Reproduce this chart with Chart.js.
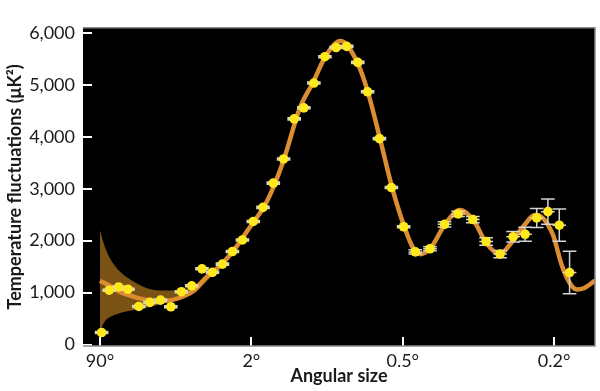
<!DOCTYPE html>
<html lang="en">
<head>
<meta charset="UTF-8">
<title>CMB power spectrum</title>
<script src="https://cdn.jsdelivr.net/npm/chart.js"></script>
<style>
    body { margin: 0; background: #fff; }
    .wrap { width: 600px; height: 391px; position: relative; }
</style>
</head>
<body>
<div class="wrap"><canvas id="cmb"></canvas></div>
<script>
// x positions are in axis units: 0 = 90°, 1 = 2°, 2 = 0.5°, 3 = 0.2°
const tickPos = [0, 1, 2, 3];
const tickLabels = ['90°', '2°', '0.5°', '0.2°'];
const yTicks = [0, 1000, 2000, 3000, 4000, 5000, 6000];

// measured band powers (μK²)
const binX = [0.011, 0.061, 0.123, 0.185, 0.257, 0.330, 0.400, 0.468, 0.538, 0.606,
    0.674, 0.743, 0.809, 0.875, 0.941, 1.013, 1.077, 1.145, 1.213, 1.283,
    1.347, 1.413, 1.486, 1.560, 1.630, 1.703, 1.768, 1.846, 1.925, 2.006,
    2.083, 2.180, 2.276, 2.366, 2.463, 2.551, 2.643, 2.729, 2.808, 2.885,
    2.959, 3.034, 3.102];
const binPower = [232, 1047, 1109, 1065, 734, 812, 855, 728, 1018, 1132,
    1458, 1391, 1549, 1790, 2014, 2370, 2641, 3107, 3572, 4344,
    4556, 5033, 5540, 5716, 5739, 5431, 4864, 3964, 3022, 2268,
    1784, 1844, 2315, 2514, 2406, 1984, 1743, 2074, 2123, 2437,
    2558, 2297, 1386];
const binErr = [20, 20, 20, 20, 20, 20, 20, 20, 20, 20,
    20, 20, 20, 20, 20, 20, 20, 20, 20, 20,
    20, 20, 20, 20, 20, 20, 20, 20, 20, 20,
    40, 40, 50, 50, 60, 70, 70, 100, 136, 184,
    242, 310, 408];
const binHalfWidth = 0.045;

// best-fit model curve
const modelX = [0.00, 0.06, 0.12, 0.18, 0.26, 0.34, 0.40, 0.48, 0.56, 0.62,
    0.70, 0.78, 0.88, 0.99, 1.10, 1.21, 1.32, 1.41, 1.49, 1.59,
    1.70, 1.77, 1.85, 1.93, 2.01, 2.07, 2.12, 2.19, 2.28, 2.38,
    2.47, 2.55, 2.64, 2.72, 2.79, 2.88, 2.99, 3.05, 3.10, 3.15,
    3.20, 3.27];
const modelPower = [1230, 1140, 1030, 960, 890, 850, 840, 860, 940, 1040,
    1290, 1480, 1800, 2260, 2740, 3520, 4550, 5060, 5550, 5840,
    5430, 4860, 3960, 3020, 2270, 1850, 1740, 1880, 2320, 2590,
    2380, 1960, 1740, 1970, 2250, 2500, 2130, 1530, 1200, 1060,
    1090, 1230];

// cosmic variance band
const bandX = [0, 0.03, 0.07, 0.12, 0.18, 0.29, 0.40, 0.51, 0.62, 0.70, 0.76];
const bandHigh = [2200, 1900, 1640, 1440, 1290, 1110, 1040, 1040, 1140, 1320, 1450];
const bandLow = [260, 440, 535, 595, 640, 700, 775, 865, 985, 1200, 1390];

const pts = (xs, ys) => xs.map((x, i) => ({ x: x, y: ys[i] }));

const plotFrame = {
    id: 'plotFrame',
    beforeDraw(chart) {
        const { ctx, chartArea: a } = chart;
        ctx.save();
        ctx.fillStyle = '#000';
        ctx.fillRect(a.left, a.top, a.right - a.left, a.bottom - a.top);
        ctx.restore();
    },
    afterDraw(chart) {
        const { ctx, chartArea: a } = chart;
        ctx.save();
        ctx.strokeStyle = '#8a8a8a';
        ctx.lineWidth = 1.5;
        ctx.beginPath();
        ctx.moveTo(a.left, a.top);
        ctx.lineTo(a.right, a.top);
        ctx.lineTo(a.right, a.bottom);
        ctx.lineTo(a.left, a.bottom);
        ctx.stroke();
        ctx.restore();
    }
};

// error bars go under the yellow dots
const errorBars = {
    id: 'errorBars',
    beforeDatasetDraw(chart, args) {
        if (args.index !== 0) return;
        const { ctx, scales: { x, y } } = chart;
        ctx.save();
        ctx.strokeStyle = '#d4d4d4';
        ctx.lineWidth = 1.5;
        binX.forEach((bx, i) => {
            const xl = x.getPixelForValue(bx - binHalfWidth);
            const xr = x.getPixelForValue(bx + binHalfWidth);
            const xc = x.getPixelForValue(bx);
            const yc = y.getPixelForValue(binPower[i]);
            const yt = y.getPixelForValue(binPower[i] + binErr[i]);
            const yb = y.getPixelForValue(binPower[i] - binErr[i]);
            ctx.beginPath();
            ctx.moveTo(xl, yc); ctx.lineTo(xr, yc);
            ctx.moveTo(xc, yt); ctx.lineTo(xc, yb);
            ctx.moveTo(xl, yt); ctx.lineTo(xr, yt);
            ctx.moveTo(xl, yb); ctx.lineTo(xr, yb);
            ctx.stroke();
        });
        ctx.restore();
    }
};

new Chart(document.getElementById('cmb'), {
    type: 'line',
    data: {
        datasets: [
            {
                label: 'Data',
                data: pts(binX, binPower),
                showLine: false,
                pointRadius: 4.8,
                pointBackgroundColor: '#ffe81c',
                pointBorderWidth: 0
            },
            {
                label: 'Model',
                data: pts(modelX, modelPower),
                borderColor: '#dc8d31',
                borderWidth: 4.5,
                pointRadius: 0,
                cubicInterpolationMode: 'monotone'
            },
            {
                label: 'Band high',
                data: pts(bandX, bandHigh),
                borderWidth: 0,
                pointRadius: 0,
                cubicInterpolationMode: 'monotone',
                backgroundColor: '#7a5214',
                fill: 3
            },
            {
                label: 'Band low',
                data: pts(bandX, bandLow),
                borderWidth: 0,
                pointRadius: 0,
                cubicInterpolationMode: 'monotone',
                fill: false
            }
        ]
    },
    options: {
        responsive: true,
        maintainAspectRatio: false,
        animation: false,
        layout: { padding: { top: 8, right: 5, left: 0, bottom: 0 } },
        plugins: { legend: { display: false }, tooltip: { enabled: false } },
        scales: {
            x: {
                type: 'linear',
                min: -0.112,
                max: 3.27,
                afterBuildTicks: s => { s.ticks = tickPos.map(v => ({ value: v })); },
                afterFit: s => { s.height = 45; },
                grid: { drawOnChartArea: false, tickLength: -9, color: '#fff', lineWidth: 2 },
                border: { display: false },
                ticks: {
                    padding: 13,
                    color: '#1a1a1a',
                    font: { family: 'Lato', size: 18 },
                    callback: v => tickLabels[tickPos.indexOf(v)]
                },
                title: {
                    display: true,
                    text: 'Angular size',
                    color: '#1a1a1a',
                    padding: { top: 0, bottom: 4 },
                    font: { family: 'Lato', size: 18, weight: 'bold' }
                }
            },
            y: {
                min: -27,
                max: 6096,
                afterBuildTicks: s => { s.ticks = yTicks.map(v => ({ value: v })); },
                afterFit: s => { s.width = 83; },
                grid: { drawOnChartArea: false, tickLength: -9, color: '#fff', lineWidth: 2 },
                border: { display: false },
                ticks: {
                    padding: 17,
                    color: '#1a1a1a',
                    font: { family: 'Lato', size: 18 },
                    callback: v => v.toLocaleString('en-US')
                },
                title: {
                    display: true,
                    text: 'Temperature fluctuations (μK²)',
                    color: '#1a1a1a',
                    padding: { top: 4, bottom: 0 },
                    font: { family: 'Lato', size: 18, weight: 'bold' }
                }
            }
        }
    },
    plugins: [plotFrame, errorBars]
});
</script>
</body>
</html>
